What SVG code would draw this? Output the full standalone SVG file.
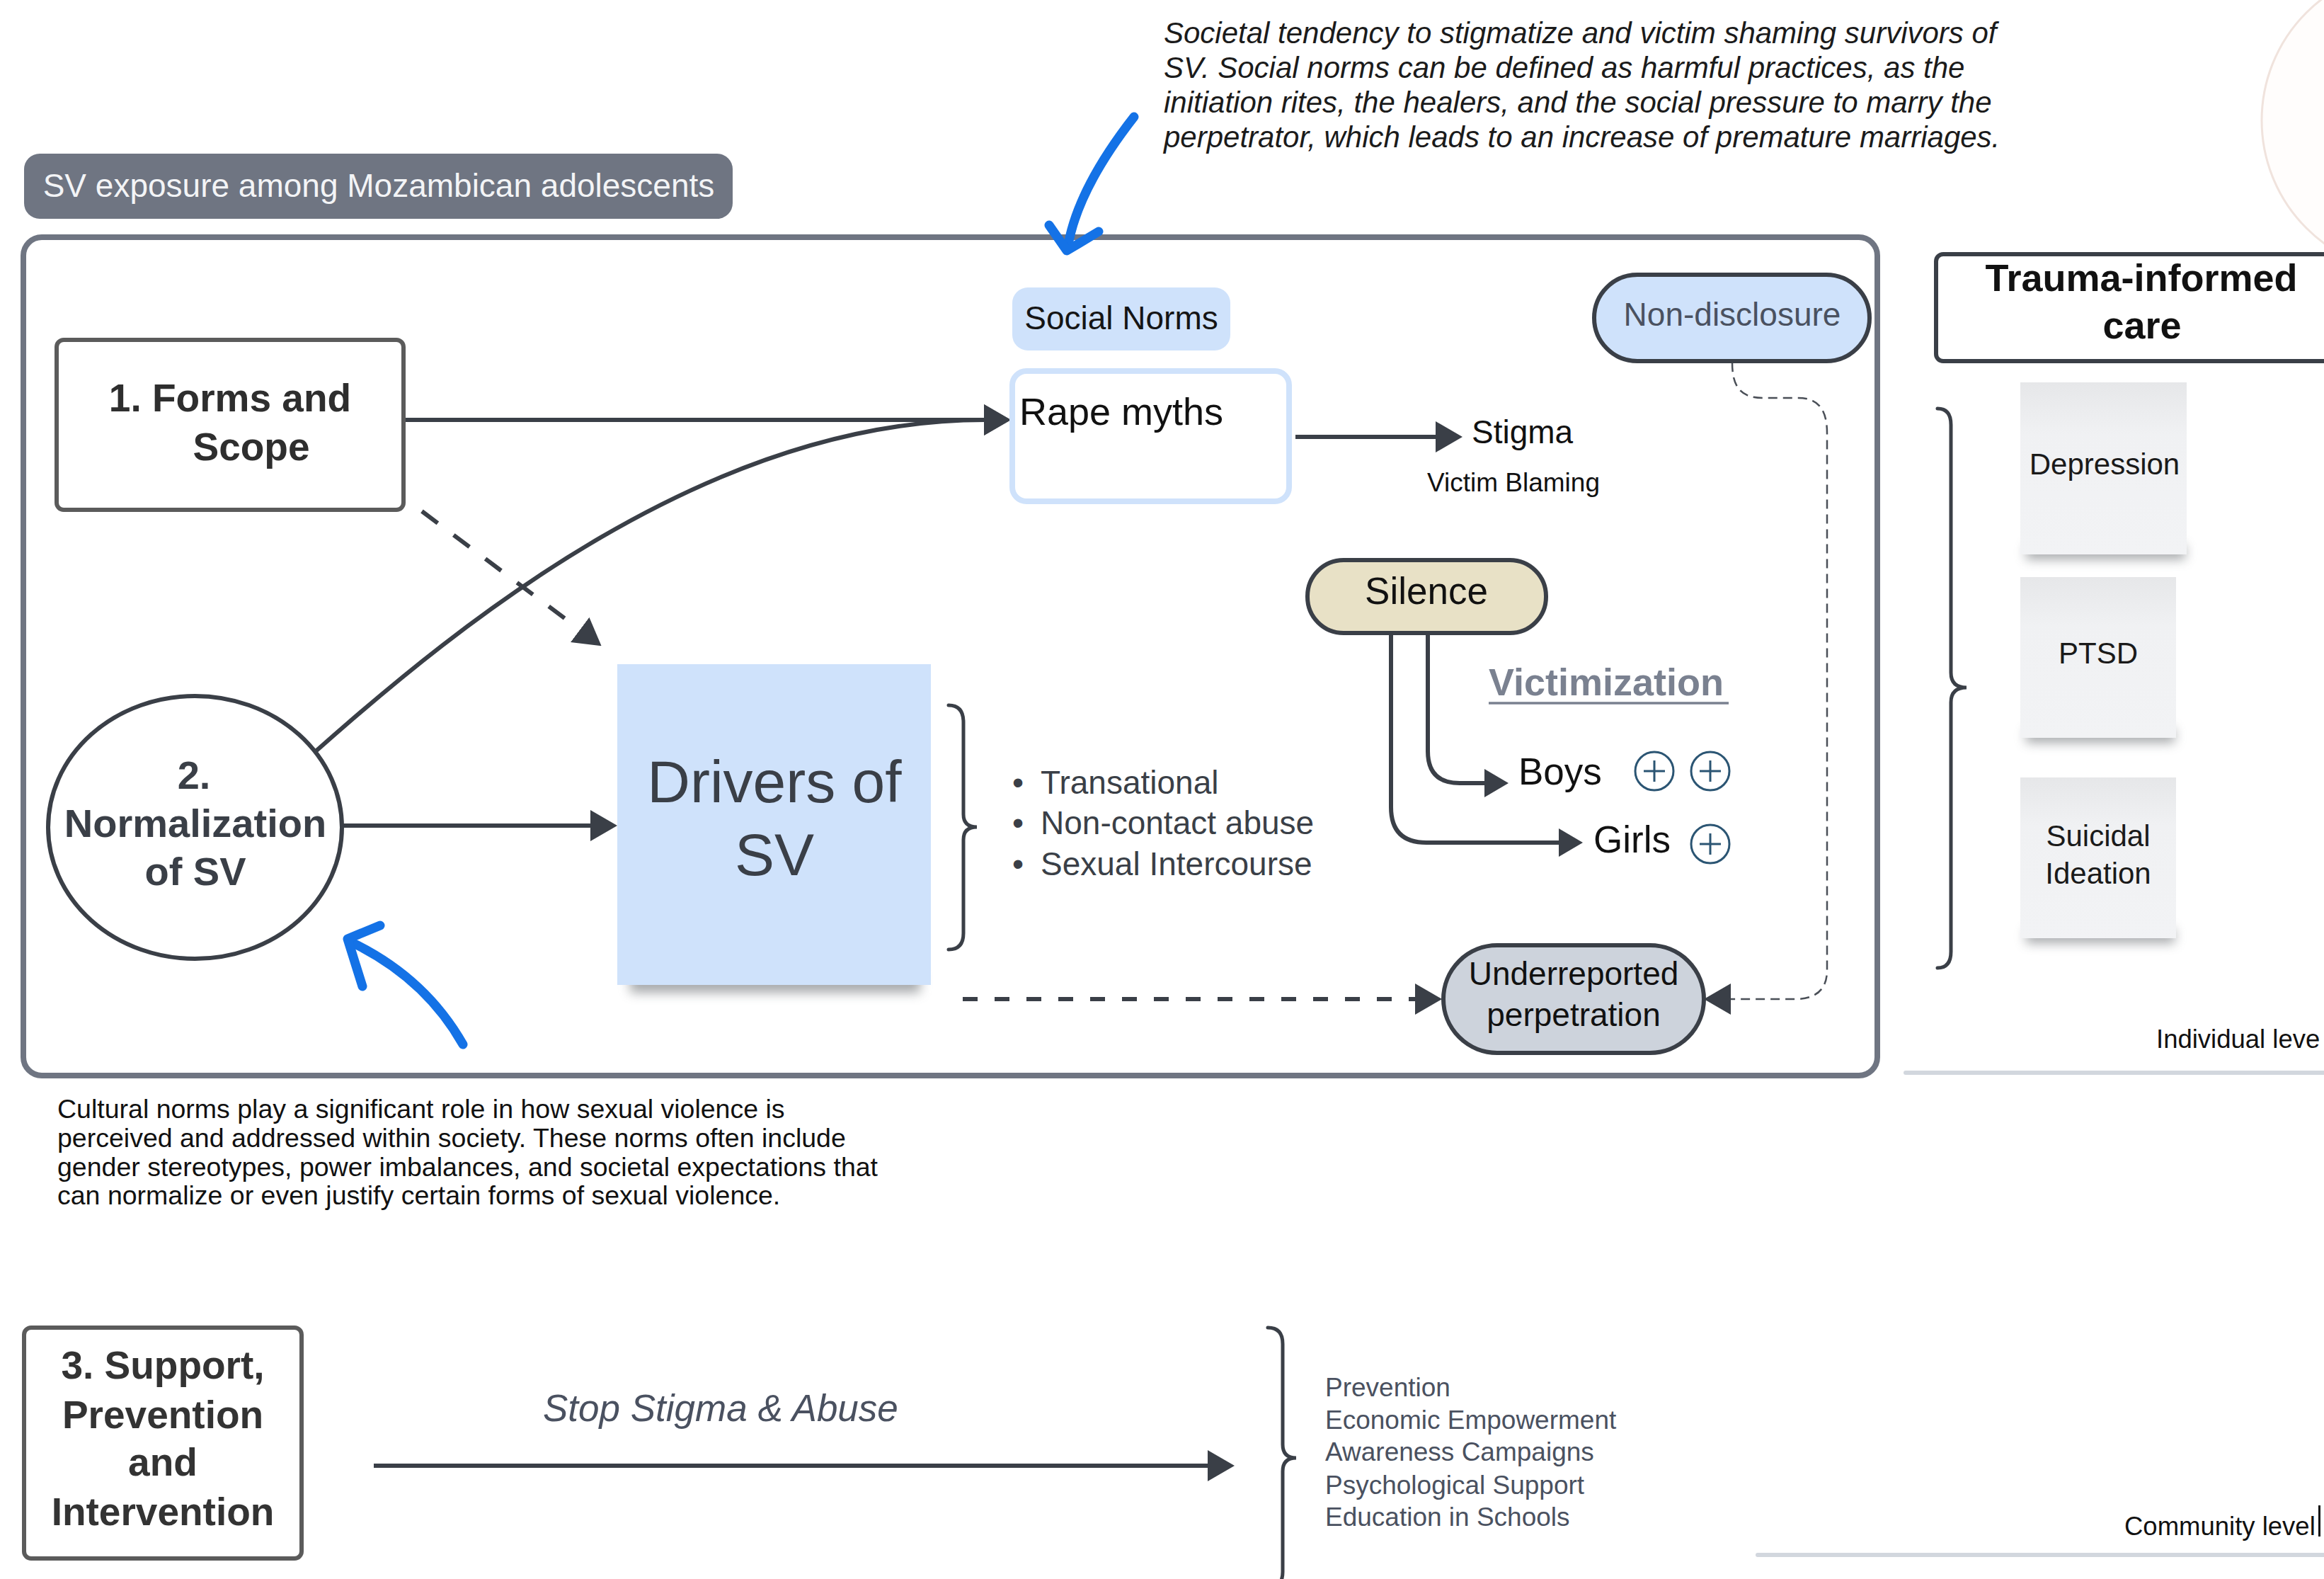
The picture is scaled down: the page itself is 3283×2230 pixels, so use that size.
<svg xmlns="http://www.w3.org/2000/svg" xmlns:xlink="http://www.w3.org/1999/xlink" width="3283" height="2230" viewBox="0 0 3283 2230">
<defs>
<style>
text{font-family:"Liberation Sans",Arial,Helvetica,sans-serif;}
.conn{fill:none;stroke:#3a3f47;stroke-width:6;}
.dash1{stroke-dasharray:28 28;}
.dash2{stroke-dasharray:21 24;}
.thin{fill:none;stroke:#4a4f57;stroke-width:2.5;stroke-dasharray:13 8;}
.blue{fill:none;stroke:#1472E6;stroke-width:13;stroke-linecap:round;stroke-linejoin:round;}
.brace{fill:none;stroke:#3a3f47;stroke-width:5;stroke-linecap:round;}
.box{fill:#fff;stroke:#5b5b5b;stroke-width:6;}
.pill{stroke:#3a3f47;stroke-width:6;}
.bold{font-weight:bold;}
.note{fill:url(#noteGrad);}
.shadow{fill:#5f6368;opacity:0.55;filter:url(#blur);}
.plusc{fill:none;stroke:#2b5573;stroke-width:3;}
</style>
<marker id="ah" markerUnits="userSpaceOnUse" markerWidth="38" markerHeight="44" viewBox="0 0 38 44" refX="1" refY="22" orient="auto"><path d="M0,0 L38,22 L0,44 Z" fill="#3a3f47"/></marker>
<marker id="ahs" markerUnits="userSpaceOnUse" markerWidth="34" markerHeight="40" viewBox="0 0 34 40" refX="1" refY="20" orient="auto"><path d="M0,0 L34,20 L0,40 Z" fill="#3a3f47"/></marker>
<filter id="blur" x="-20%" y="-200%" width="140%" height="500%"><feGaussianBlur stdDeviation="8"/></filter>
<linearGradient id="noteGrad" x1="0" y1="0" x2="0" y2="1"><stop offset="0" stop-color="#E6E7E9"/><stop offset="0.3" stop-color="#F0F1F3"/><stop offset="1" stop-color="#F2F3F5"/></linearGradient>
<g id="plus"><circle class="plusc" r="27"/><path class="plusc" d="M-15,0H15M0,-15V15"/></g>
</defs>
<rect width="3283" height="2230" fill="#fff"/>

<!-- decorative peach circle top-right -->
<circle cx="3410" cy="170" r="215" fill="#FFFDFC" stroke="#F0E3DD" stroke-width="3"/>

<!-- top annotation -->
<g id="annotation-top" font-style="italic" font-size="42" fill="#1b1b1b">
<text x="1644" y="61">Societal tendency to stigmatize and victim shaming survivors of</text>
<text x="1644" y="110">SV. Social norms can be defined as harmful practices, as the</text>
<text x="1644" y="159">initiation rites, the healers, and the social pressure to marry the</text>
<text x="1644" y="208">perpetrator, which leads to an increase of premature marriages.</text>
</g>

<!-- title -->
<g id="title">
<rect x="34" y="217" width="1001" height="92" rx="22" fill="#6F7582"/>
<text x="535" y="278" font-size="46" fill="#F3F4F6" text-anchor="middle">SV exposure among Mozambican adolescents</text>
</g>

<!-- main container -->
<rect id="container" x="33" y="335" width="2619" height="1184" rx="26" fill="none" stroke="#6F7582" stroke-width="8"/>

<!-- connectors -->
<g id="connectors">
<path class="conn" d="M570,593 L1391,593" marker-end="url(#ah)"/>
<path class="conn" d="M446,1061 C650,880 1000,593 1391,593" marker-end="url(#ah)"/>
<path class="conn dash1" d="M596,722 L820,890" marker-end="url(#ah)"/>
<path class="conn" d="M483,1166 L835,1166" marker-end="url(#ah)"/>
<path class="conn" d="M1830,617 L2029,617" marker-end="url(#ah)"/>
<path class="conn" d="M2017,894 L2017,1061 Q2017,1106 2062,1106 L2098,1106" marker-end="url(#ahs)"/>
<path class="conn" d="M1965,894 L1965,1140 Q1965,1190 2015,1190 L2203,1190" marker-end="url(#ahs)"/>
<path class="conn dash2" d="M1360,1411 L2000,1411" marker-end="url(#ah)"/>
<path class="thin" d="M2447,512 C2447,545 2458,562 2490,562 L2540,562 C2570,562 2581,580 2581,612 L2581,1370 C2581,1398 2565,1411 2535,1411 L2444,1411" marker-end="url(#ah)"/>
<path class="conn" d="M528,2070 L1707,2070" marker-end="url(#ah)"/>
<path class="blue" d="M1602,165 Q1520,270 1508,352"/>
<path class="blue" d="M1482,318 L1507,354 L1552,327"/>
<path class="blue" d="M654,1475 Q600,1380 495,1330"/>
<path class="blue" d="M512,1393 L491,1326 L537,1307"/>
</g>

<!-- nodes -->
<g id="forms-scope">
<rect class="box" x="80" y="480" width="490" height="240" rx="10"/>
<text class="bold" x="325" y="581" font-size="55" fill="#2e2e2e" text-anchor="middle">1. Forms and</text>
<text class="bold" x="355" y="650" font-size="55" fill="#2e2e2e" text-anchor="middle">Scope</text>
</g>

<g id="normalization">
<ellipse cx="275.5" cy="1168.5" rx="207.5" ry="185.5" fill="#fff" stroke="#3a3f47" stroke-width="6"/>
<text class="bold" x="274" y="1114" font-size="56" fill="#3a3f47" text-anchor="middle">2.</text>
<text class="bold" x="276" y="1182" font-size="56" fill="#3a3f47" text-anchor="middle">Normalization</text>
<text class="bold" x="276" y="1250" font-size="56" fill="#3a3f47" text-anchor="middle">of SV</text>
</g>

<g id="drivers">
<rect class="shadow" x="890" y="1368" width="410" height="34"/>
<rect x="872" y="938" width="443" height="453" fill="#CFE2FB"/>
<text x="1094" y="1133" font-size="84" fill="#3a3f47" text-anchor="middle">Drivers of</text>
<text x="1094" y="1236" font-size="84" fill="#3a3f47" text-anchor="middle">SV</text>
</g>

<g id="forms-list">
<path class="brace" d="M1340,996 Q1361,996 1361,1020 L1361,1150 Q1361,1168 1380,1168 Q1361,1168 1361,1186 L1361,1318 Q1361,1341 1340,1341"/>
<g font-size="46" fill="#3a3f47">
<text x="1430" y="1121">•</text><text x="1470" y="1121">Transational</text>
<text x="1430" y="1178">•</text><text x="1470" y="1178">Non-contact abuse</text>
<text x="1430" y="1236">•</text><text x="1470" y="1236">Sexual Intercourse</text>
</g>
</g>

<g id="social-norms">
<rect x="1430" y="406" width="308" height="89" rx="22" fill="#CFE2FB"/>
<text x="1584" y="465" font-size="46" fill="#151515" text-anchor="middle">Social Norms</text>
</g>

<g id="rape-myths">
<rect x="1430" y="524" width="391" height="184" rx="20" fill="#fff" stroke="#CFE2FB" stroke-width="8"/>
<text x="1440" y="600" font-size="54" fill="#111">Rape myths</text>
</g>

<g id="stigma">
<text x="2079" y="626" font-size="46" fill="#111">Stigma</text>
<text x="2138" y="694" font-size="37" fill="#111" text-anchor="middle">Victim Blaming</text>
</g>

<g id="non-disclosure">
<rect class="pill" x="2252" y="388" width="389" height="122" rx="61" fill="#CFE2FB"/>
<text x="2447" y="460" font-size="46" fill="#4a5160" text-anchor="middle">Non-disclosure</text>
</g>

<g id="silence">
<rect class="pill" x="1847" y="791" width="337" height="103" rx="51" fill="#E8E1C6"/>
<text x="2015" y="853" font-size="53" fill="#111" text-anchor="middle">Silence</text>
</g>

<g id="victimization">
<text class="bold" x="2103" y="982" font-size="54" fill="#7a8190">Victimization</text>
<line x1="2103" y1="993" x2="2442" y2="993" stroke="#7a8190" stroke-width="3.5"/>
</g>

<g id="boys">
<text x="2145" y="1108" font-size="53" fill="#111">Boys</text>
<use xlink:href="#plus" href="#plus" x="2337" y="1089"/>
<use xlink:href="#plus" href="#plus" x="2416" y="1089"/>
</g>

<g id="girls">
<text x="2251" y="1204" font-size="53" fill="#111">Girls</text>
<use xlink:href="#plus" href="#plus" x="2416" y="1192"/>
</g>

<g id="underreported">
<rect class="pill" x="2039" y="1335" width="368" height="152" rx="76" fill="#CDD3DC"/>
<text x="2223" y="1391" font-size="46" fill="#111" text-anchor="middle">Underreported</text>
<text x="2223" y="1449" font-size="46" fill="#111" text-anchor="middle">perpetration</text>
</g>

<g id="cultural-note" font-size="37.5" fill="#111">
<text x="81" y="1579">Cultural norms play a significant role in how sexual violence is</text>
<text x="81" y="1620">perceived and addressed within society. These norms often include</text>
<text x="81" y="1661">gender stereotypes, power imbalances, and societal expectations that</text>
<text x="81" y="1701">can normalize or even justify certain forms of sexual violence.</text>
</g>

<g id="support">
<rect class="box" x="34" y="1875" width="392" height="326" rx="10"/>
<g class="bold" font-size="55" fill="#333" text-anchor="middle">
<text x="230" y="1947">3. Support,</text>
<text x="230" y="2017">Prevention</text>
<text x="230" y="2084">and</text>
<text x="230" y="2154">Intervention</text>
</g>
</g>

<g id="stop-stigma">
<text x="767" y="2007" font-size="53" font-style="italic" fill="#4a5160">Stop Stigma &amp; Abuse</text>
</g>

<g id="support-list">
<path class="brace" d="M1791,1875 Q1812,1875 1812,1898 L1812,2040 Q1812,2059 1831,2059 Q1812,2059 1812,2078 L1812,2220 Q1812,2243 1791,2243"/>
<g font-size="37" fill="#4a5160">
<text x="1872" y="1972">Prevention</text>
<text x="1872" y="2018">Economic Empowerment</text>
<text x="1872" y="2063">Awareness Campaigns</text>
<text x="1872" y="2110">Psychological Support</text>
<text x="1872" y="2155">Education in Schools</text>
</g>
</g>

<g id="trauma-care">
<rect x="2735" y="359" width="620" height="151" rx="10" fill="#fff" stroke="#3a3f47" stroke-width="6"/>
<text class="bold" x="3025" y="411" font-size="54" fill="#111" text-anchor="middle">Trauma-informed</text>
<text class="bold" x="3026" y="478" font-size="54" fill="#111" text-anchor="middle">care</text>
</g>

<g id="individual-effects">
<path class="brace" d="M2737,577 Q2756,577 2756,600 L2756,950 Q2756,971 2778,971 Q2756,971 2756,992 L2756,1344 Q2756,1367 2737,1367"/>
</g>

<g id="depression">
<rect class="shadow" x="2862" y="770" width="225" height="20"/>
<rect class="note" x="2854" y="540" width="235" height="243"/>
<text x="2973" y="670" font-size="42" fill="#1a1a1a" text-anchor="middle">Depression</text>
</g>

<g id="ptsd">
<rect class="shadow" x="2862" y="1029" width="210" height="20"/>
<rect class="note" x="2854" y="815" width="220" height="227"/>
<text x="2964" y="937" font-size="42" fill="#1a1a1a" text-anchor="middle">PTSD</text>
</g>

<g id="suicidal">
<rect class="shadow" x="2862" y="1312" width="210" height="20"/>
<rect class="note" x="2854" y="1098" width="220" height="227"/>
<text x="2964" y="1195" font-size="42" fill="#1a1a1a" text-anchor="middle">Suicidal</text>
<text x="2964" y="1248" font-size="42" fill="#1a1a1a" text-anchor="middle">Ideation</text>
</g>

<g id="individual-level">
<text x="3046" y="1480" font-size="36.5" fill="#111">Individual leve</text>
<line x1="2692" y1="1515" x2="3283" y2="1515" stroke="#D2D7DE" stroke-width="6" stroke-linecap="round"/>
</g>

<g id="community-level">
<text x="3001" y="2168" font-size="36.5" fill="#111">Community level</text>
<rect x="3275" y="2126" width="3" height="44" fill="#111"/>
<line x1="2483" y1="2196" x2="3283" y2="2196" stroke="#D2D7DE" stroke-width="6" stroke-linecap="round"/>
</g>
</svg>
